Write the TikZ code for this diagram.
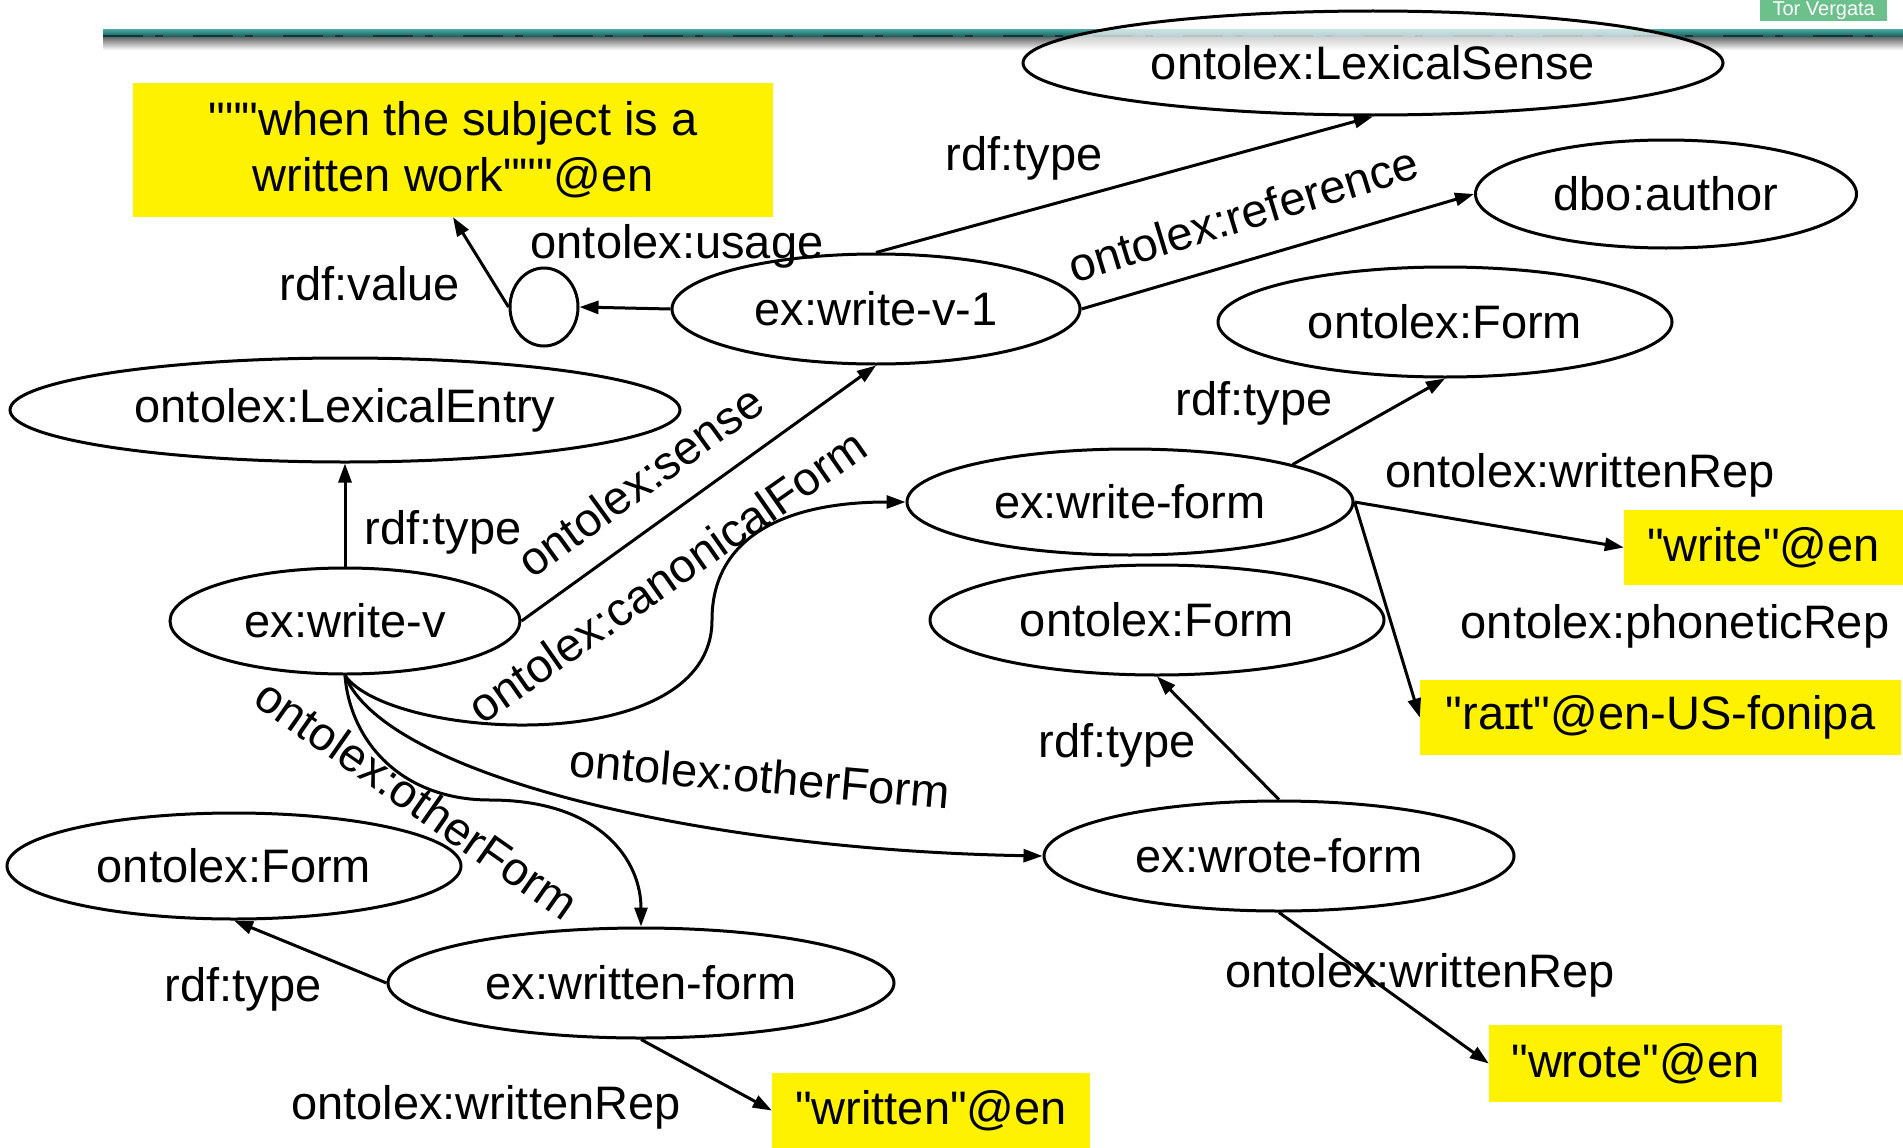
\documentclass[tikz,border=0pt]{standalone}
\usepackage{fontspec}
\setmainfont{Liberation Sans}[Ligatures=TeXOff]
\usetikzlibrary{shapes.geometric,arrows.meta,calc}
\definecolor{torgreen}{RGB}{108,192,139}
\definecolor{bannerdark}{RGB}{12,80,80}
\definecolor{bannerlight}{RGB}{70,160,156}

\begin{document}
\begin{tikzpicture}[x=1pt,y=-1pt,
  every node/.style={font=\fontsize{47}{56}\selectfont},
  res/.style={ellipse,draw,line width=3pt,inner sep=0pt,fill=white},
  lit/.style={fill=yellow,inner sep=0pt},
  lbl/.style={inner sep=0pt},
  rel/.style={line width=3pt,-{Triangle[length=19pt,width=13pt]}},
]
\useasboundingbox (0,0) rectangle (1903,1148);

% header banner with its shadow
\shade[top color=bannerlight, bottom color=bannerdark] (103,30) rectangle (1903,38);
\shade[top color=black!55, bottom color=white] (103,38) rectangle (1903,50);
\draw[line width=1.5pt, bannerdark!70!black, dash pattern=on 40pt off 12pt on 8pt off 30pt] (103,36) -- (1903,36);
\node[fill=torgreen, text=white, minimum width=127pt, minimum height=21pt, inner sep=0pt,
      anchor=north west, font=\fontsize{20}{20}\selectfont] (tv) at (1760,0) {Tor Vergata};

% resources
\node[res, minimum width=700pt, minimum height=104pt, fill opacity=0.7, text opacity=1] (lexsense) at (1373,63) {ontolex:LexicalSense};
\node[res, minimum width=381pt, minimum height=108pt] (author) at (1666,194) {dbo:author};
\node[res, minimum width=68pt, minimum height=78pt] (blank) at (544,307) {};
\node[res, minimum width=408pt, minimum height=110pt] (sense) at (876,309) {ex:write-v-1};
\node[res, minimum width=454pt, minimum height=110pt] (formA) at (1445,322) {ontolex:Form};
\node[res, minimum width=670pt, minimum height=104pt] (entry) at (345,410) {ontolex:LexicalEntry};
\node[res, minimum width=446pt, minimum height=106pt] (wform) at (1130,502) {ex:write-form};
\node[res, minimum width=454pt, minimum height=110pt] (formB) at (1157,620) {ontolex:Form};
\node[res, minimum width=350pt, minimum height=106pt] (verb) at (345,621) {ex:write-v};
\node[res, minimum width=470pt, minimum height=110pt] (oform) at (1279,856) {ex:wrote-form};
\node[res, minimum width=454pt, minimum height=106pt] (formC) at (234,866) {ontolex:Form};
\node[res, minimum width=506pt, minimum height=110pt] (nform) at (641,983) {ex:written-form};

% literals
\node[lit, minimum width=640pt, minimum height=134pt, align=center] (usage) at (453,150) {"""when the subject is a\\written work"""@en};
\node[lit, minimum width=279pt, minimum height=75pt] (wlit) at (1763.5,547.5) {"write"@en};
\node[lit, minimum width=481pt, minimum height=75pt] (plit) at (1660.5,717.5) {"raɪt"@en-US-fonipa};
\node[lit, minimum width=318pt, minimum height=75pt] (nlit) at (931,1110.5) {"written"@en};
\node[lit, minimum width=293pt, minimum height=77pt] (olit) at (1635.5,1063.5) {"wrote"@en};

% bend points of the curved properties
\coordinate (cfbend) at (712,620);
\coordinate (ofbend) at (490,800);

% properties
\draw[rel] (sense.north) -- (lexsense.south);
\draw[rel] (sense.east) -- (author.west);
\draw[rel] (sense.west) -- (blank.east);
\draw[rel] (blank.west) -- (usage.south);
\draw[rel] (verb.north) -- (entry.south);
\draw[rel] (verb.east) -- (sense.south);
\draw[rel] (verb.south) .. controls (390,740) and (712,760) .. (cfbend)
                        .. controls (712,540) and (780,502) .. (wform.west);
\draw[rel] (verb.south) .. controls (385,775) and (700,850) .. (oform.west);
\draw[rel] (verb.south) .. controls (350,740) and (400,800) .. (ofbend)
                        .. controls (600,800) and (641,860) .. (nform.north);
\draw[rel] (wform.13) -- (formA.south);
\draw[rel] (wform.east) -- (wlit.west);
\draw[rel] (wform.east) -- (plit.west);
\draw[rel] (oform.north) -- (formB.south);
\draw[rel] (oform.south) -- (olit.west);
\draw[rel] (nform.west) -- (formC.south);
\draw[rel] (nform.south) -- (nlit.west);

% property labels
\node[lbl] (l1) at (1024,158) {rdf:type};
\node[lbl, rotate=17] (l2) at (1243,214) {ontolex:reference};
\node[lbl] (l3) at (677,246) {ontolex:usage};
\node[lbl] (l4) at (370,284) {rdf:value};
\node[lbl] (l5) at (443,532) {rdf:type};
\node[lbl, rotate=36] (l6) at (640,481) {ontolex:sense};
\node[lbl, rotate=35] (l7) at (667,576) {ontolex:canonicalForm};
\node[lbl, rotate=-5] (l8) at (760,776) {ontolex:otherForm};
\node[lbl, rotate=-35] (l9) at (417,799) {ontolex:otherForm};
\node[lbl] (l10) at (1254,403) {rdf:type};
\node[lbl] (l11) at (1580,475) {ontolex:writtenRep};
\node[lbl] (l12) at (1675,626) {ontolex:phoneticRep};
\node[lbl] (l13) at (1117,745) {rdf:type};
\node[lbl] (l14) at (1420,975) {ontolex:writtenRep};
\node[lbl] (l15) at (243,989) {rdf:type};
\node[lbl] (l16) at (486,1107) {ontolex:writtenRep};
\end{tikzpicture}
\end{document}
